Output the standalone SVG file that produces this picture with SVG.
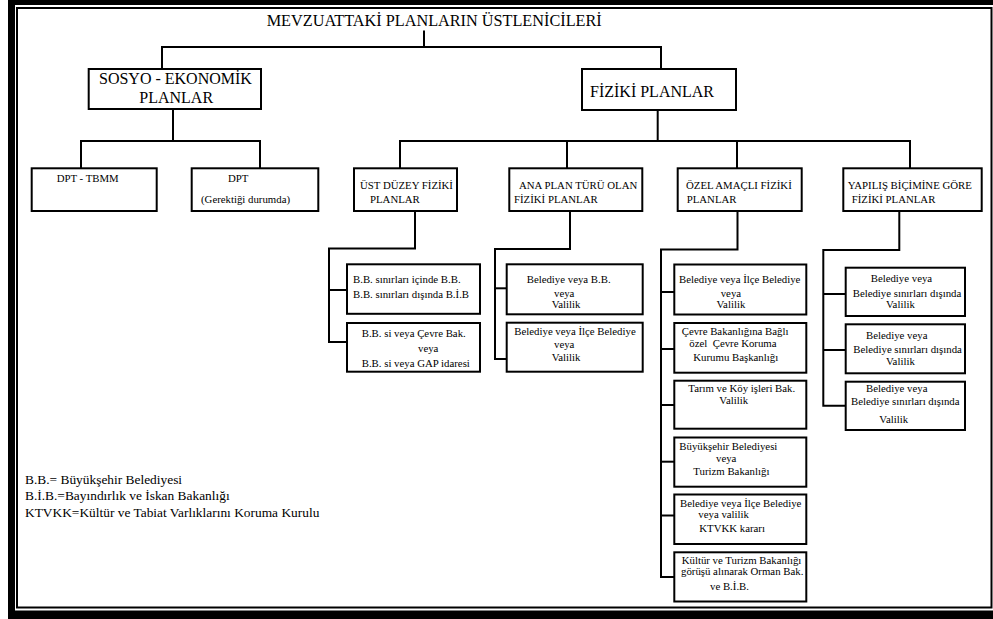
<svg xmlns="http://www.w3.org/2000/svg" width="993" height="619" viewBox="0 0 993 619">
<style>
.box{fill:#fff;stroke:#000;stroke-width:2}
.c{fill:none;stroke:#000;stroke-width:2}
text{font-family:"Liberation Serif","Times New Roman",serif;font-size:10.8px;fill:#000}
.h{font-size:16px}
.lg{font-size:13.4px}
</style>
<g id="frame">
<rect x="8" y="0" width="985" height="619" fill="#000"/>
<rect x="15" y="5" width="978" height="605.5" fill="#fff"/>
<rect x="17" y="8" width="974.5" height="599.5" fill="none" stroke="#000" stroke-width="2"/>
</g>
<g id="connectors">
<polyline class="c" points="424,30.5 424,47"/>
<polyline class="c" points="162,69 162,47 661,47 661,69"/>
<polyline class="c" points="173,109 173,141"/>
<polyline class="c" points="81,168 81,141 260,141 260,168"/>
<polyline class="c" points="657.7,110 657.7,141"/>
<polyline class="c" points="400,168 400,141 910,141 910,168"/>
<polyline class="c" points="567,141 567,168"/>
<polyline class="c" points="737,141 737,168"/>
<polyline class="c" points="415,211 415,248.5 329,248.5 329,342 347,342"/>
<polyline class="c" points="329,290 347,290"/>
<polyline class="c" points="570,211 570,249 495,249 495,359 507,359"/>
<polyline class="c" points="495,288.3 507,288.3"/>
<polyline class="c" points="737.5,211 737.5,249.5 661,249.5 661,577 674,577"/>
<polyline class="c" points="661,292 674,292"/>
<polyline class="c" points="661,349 674,349"/>
<polyline class="c" points="661,405 674,405"/>
<polyline class="c" points="661,461.7 674,461.7"/>
<polyline class="c" points="661,515.5 674,515.5"/>
<polyline class="c" points="899.3,211 899.3,250 823.3,250 823.3,405.7 846,405.7"/>
<polyline class="c" points="823.3,294 846,294"/>
<polyline class="c" points="823.3,350 846,350"/>
</g>
<g id="title"><text class="h" x="266.7" y="26" textLength="335" lengthAdjust="spacingAndGlyphs">MEVZUATTAKİ PLANLARIN ÜSTLENİCİLERİ</text></g>
<g id="n-sosyo"><rect class="box" x="88.7" y="69" width="172.3" height="40"/><text class="h" x="99" y="84">SOSYO - EKONOMİK</text><text class="h" x="139.3" y="103.3">PLANLAR</text></g>
<g id="n-fiziki"><rect class="box" x="582" y="69" width="154" height="41"/><text class="h" x="590" y="97">FİZİKİ PLANLAR</text></g>
<g id="n-dpt-tbmm"><rect class="box" x="31.7" y="168.3" width="125" height="42.7"/><text x="56.7" y="181.7">DPT - TBMM</text></g>
<g id="n-dpt"><rect class="box" x="191.7" y="168.3" width="126.6" height="42.7"/><text x="228" y="181.7">DPT</text><text x="201" y="203.3">(Gerektiği durumda)</text></g>
<g id="n-ust"><rect class="box" x="354" y="168.3" width="103" height="42.7"/><text x="360" y="189">ÜST DÜZEY FİZİKİ</text><text x="370" y="203.3">PLANLAR</text></g>
<g id="n-ana"><rect class="box" x="509.3" y="168.3" width="133" height="42.7"/><text x="519" y="189">ANA PLAN TÜRÜ OLAN</text><text x="514" y="203.3">FİZİKİ PLANLAR</text></g>
<g id="n-ozel"><rect class="box" x="677.7" y="168.3" width="124" height="42.7"/><text x="686" y="189">ÖZEL AMAÇLI FİZİKİ</text><text x="686.7" y="203.3">PLANLAR</text></g>
<g id="n-yap"><rect class="box" x="843.3" y="168.3" width="138.4" height="42.7"/><text x="847.7" y="189">YAPILIŞ BİÇİMİNE GÖRE</text><text x="851.7" y="203.3">FİZİKİ PLANLAR</text></g>
<g id="n-ust-1"><rect class="box" x="347" y="264.3" width="133" height="49.5"/><text x="353" y="283.3">B.B. sınırları içinde B.B.</text><text x="353" y="298.3">B.B. sınırları dışında B.İ.B</text></g>
<g id="n-ust-2"><rect class="box" x="347" y="323" width="133" height="48.7"/><text x="361.7" y="336.7">B.B. si veya Çevre Bak.</text><text x="418" y="351.7">veya</text><text x="361.7" y="366.7">B.B. si veya GAP idaresi</text></g>
<g id="n-ana-1"><rect class="box" x="506.7" y="264.3" width="136" height="50"/><text x="526.7" y="282.7">Belediye veya B.B.</text><text x="554" y="296.7">veya</text><text x="551.7" y="308.3">Valilik</text></g>
<g id="n-ana-2"><rect class="box" x="506.7" y="322.7" width="136" height="49"/><text x="514.3" y="335">Belediye veya İlçe Belediye</text><text x="554" y="348.3">veya</text><text x="551.7" y="360.7">Valilik</text></g>
<g id="n-ozel-1"><rect class="box" x="674.3" y="264.5" width="132" height="50"/><text x="679" y="283">Belediye veya İlçe Belediye</text><text x="720.7" y="296.7">veya</text><text x="716.5" y="308.3">Valilik</text></g>
<g id="n-ozel-2"><rect class="box" x="674.3" y="323" width="132" height="49.7"/><text x="681.7" y="335">Çevre Bakanlığına Bağlı</text><text x="689.3" y="346.7" xml:space="preserve">özel  Çevre Koruma</text><text x="693.3" y="360.7">Kurumu Başkanlığı</text></g>
<g id="n-ozel-3"><rect class="box" x="674.3" y="380.7" width="132" height="48"/><text x="688.3" y="391.7">Tarım ve Köy işleri Bak.</text><text x="719.3" y="404">Valilik</text></g>
<g id="n-ozel-4"><rect class="box" x="674.3" y="437.5" width="132" height="49.2"/><text x="679.3" y="450">Büyükşehir Belediyesi</text><text x="716" y="461.7">veya</text><text x="693.3" y="475">Turizm Bakanlığı</text></g>
<g id="n-ozel-5"><rect class="box" x="674.3" y="494.5" width="132" height="49.5"/><text x="680" y="506.7">Belediye veya İlçe Belediye</text><text x="698.3" y="518.3">veya valilik</text><text x="699.3" y="531.7">KTVKK kararı</text></g>
<g id="n-ozel-6"><rect class="box" x="674.3" y="552.3" width="132" height="49.2"/><text x="681.7" y="564">Kültür ve Turizm Bakanlığı</text><text x="681" y="575">görüşü alınarak Orman Bak.</text><text x="710" y="590">ve B.İ.B.</text></g>
<g id="n-yap-1"><rect class="box" x="845.7" y="267.7" width="119.3" height="48.3"/><text x="870.7" y="281.7">Belediye veya</text><text x="852.7" y="296.7">Belediye sınırları dışında</text><text x="886" y="308.3">Valilik</text></g>
<g id="n-yap-2"><rect class="box" x="845.7" y="324.3" width="119.3" height="49"/><text x="866" y="339.3">Belediye veya</text><text x="853.3" y="352.7">Belediye sınırları dışında</text><text x="886" y="365">Valilik</text></g>
<g id="n-yap-3"><rect class="box" x="845.7" y="381.7" width="119.3" height="48.3"/><text x="866" y="391.7">Belediye veya</text><text x="851" y="405">Belediye sınırları dışında</text><text x="879.3" y="423.3">Valilik</text></g>
<g id="legend"><text class="lg" x="25" y="484.3">B.B.= Büyükşehir Belediyesi</text><text class="lg" x="25" y="500">B.İ.B.=Bayındırlık ve İskan Bakanlığı</text><text class="lg" x="25" y="517.3">KTVKK=Kültür ve Tabiat Varlıklarını Koruma Kurulu</text></g>
</svg>
